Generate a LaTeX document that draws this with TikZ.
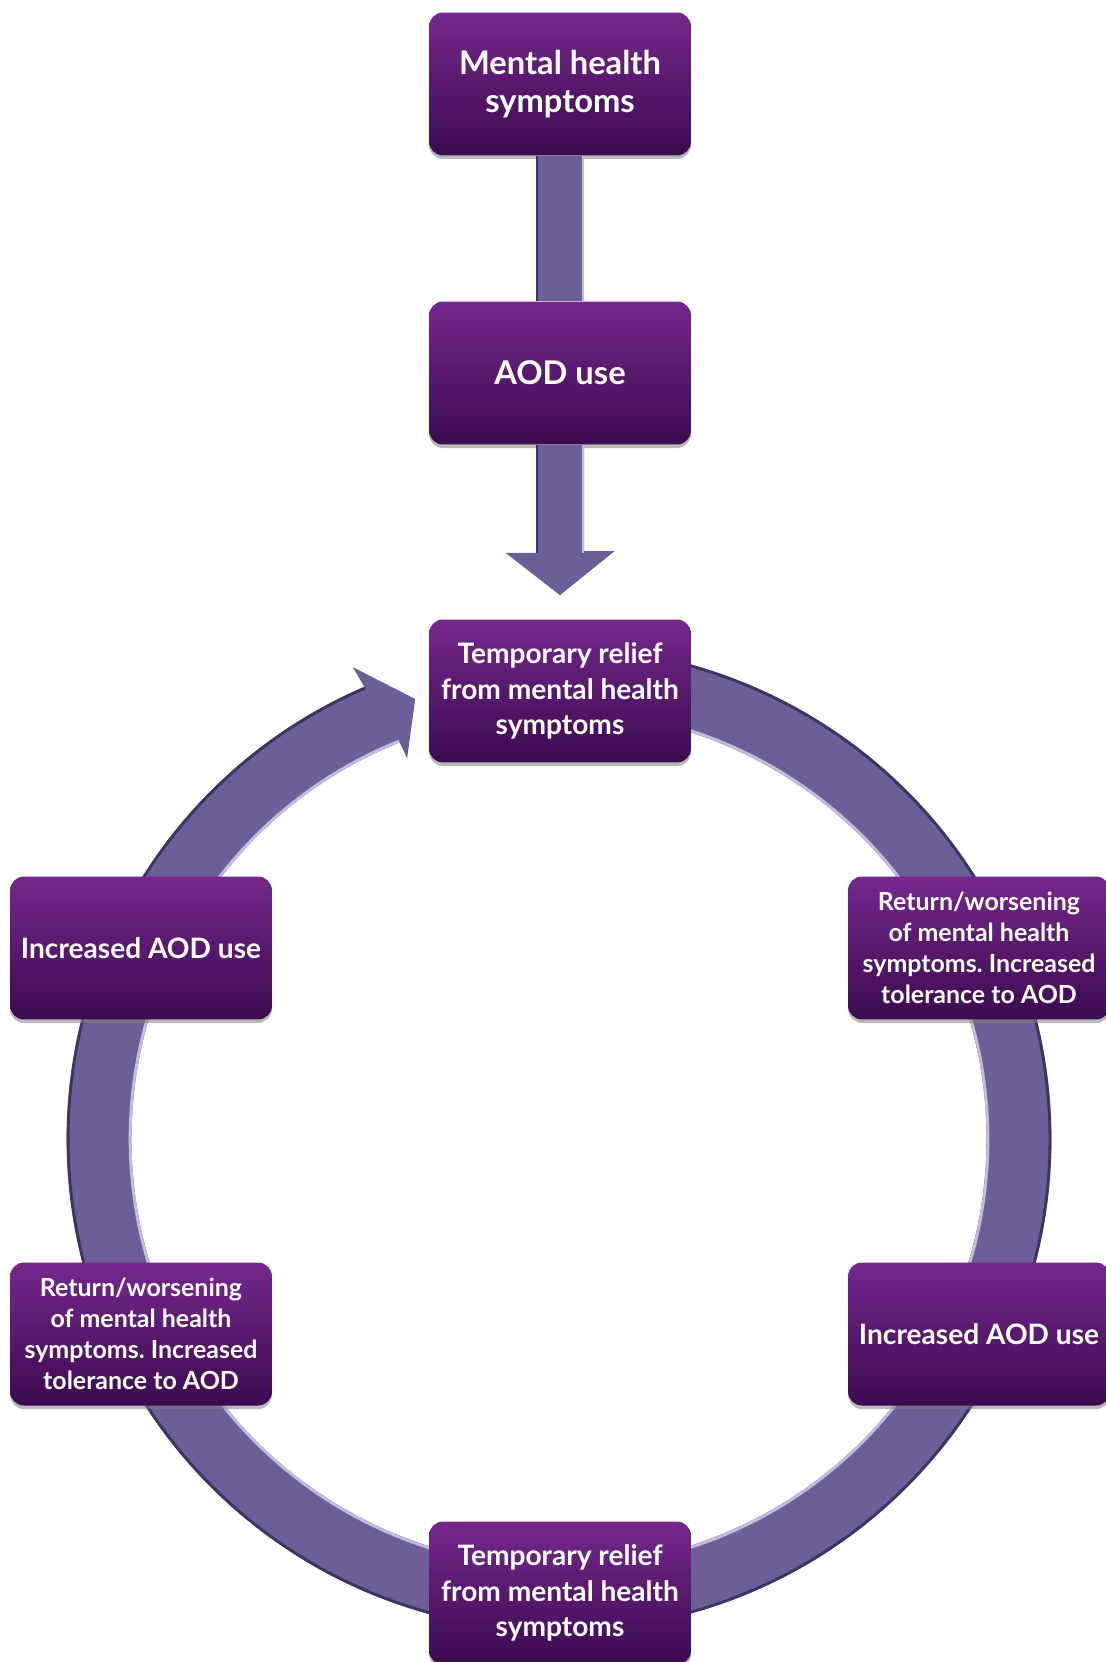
\documentclass[tikz,border=0pt]{standalone}
\usepackage{fontspec}
\setmainfont{Lato}
\frenchspacing
\usetikzlibrary{positioning,shadows}
\definecolor{boxtop}{RGB}{117,40,140}
\definecolor{boxbot}{RGB}{60,10,80}
\definecolor{flow}{RGB}{108,94,150}
\definecolor{flowdark}{RGB}{62,52,98}
\definecolor{flowlight}{RGB}{196,188,222}
\begin{document}
\begin{tikzpicture}[x=0.02cm,y=-0.02cm,
    stepbox/.style={rounded corners=0.28cm,top color=boxtop,bottom color=boxbot,
      text=white,align=center,minimum width=5.24cm,minimum height=2.86cm,
      inner sep=0pt,
      drop shadow={shadow xshift=0pt,shadow yshift=-2pt,opacity=0.55}},
    big/.style={font=\fontsize{18.6}{21.2}\selectfont\bfseries},
    mid/.style={font=\fontsize{16}{20.4}\selectfont\bfseries},
    small/.style={font=\fontsize{14.2}{17.6}\selectfont\bfseries}]
    \useasboundingbox (0,0) rectangle (1105,1662);
    % the cycle
    \begin{scope}[shift={(559,1139)}]
        \fill[flow] (95:9.85cm) arc[start angle=95,end angle=-246.7,radius=9.85cm]
            -- (113.6:10.3cm) -- (108.1:9.26cm) -- (111.75:8.2cm) -- (111.9:8.55cm)
            arc[start angle=-248.1,end angle=95,radius=8.55cm] -- cycle;
        \draw[flowdark,line width=1.6pt] (95:9.82cm) arc[start angle=95,end angle=-246.7,radius=9.82cm];
        \draw[flowlight,line width=1.6pt] (95:8.58cm) arc[start angle=95,end angle=-248.1,radius=8.58cm];
    \end{scope}
    \node[stepbox,big] (mhs) at (560,84) {Mental health\\symptoms};
    \node[stepbox,big] (aod) at (560,373) {AOD use};
    \node[stepbox,mid] (relief1) at (560,691) {Temporary relief\\from mental health\\symptoms};
    \node[stepbox,mid] (incleft) at (141,948) {Increased AOD use};
    \node[stepbox,small] (retright) at (979,948) {Return/worsening\\of mental health\\symptoms. Increased\\tolerance to AOD};
    \node[stepbox,small] (retleft) at (141,1334) {Return/worsening\\of mental health\\symptoms. Increased\\tolerance to AOD};
    \node[stepbox,mid] (incright) at (979,1334) {Increased AOD use};
    \node[stepbox,mid] (relief2) at (560,1593) {Temporary relief\\from mental health\\symptoms};
    % straight arrows
    \fill[flow] ([xshift=-0.48cm]mhs.south) rectangle ([xshift=0.48cm]aod.north);
    \draw[flowdark,line width=1.6pt] ([xshift=-0.46cm]mhs.south) -- ([xshift=-0.46cm]aod.north);
    \draw[flowlight,line width=1.6pt] ([xshift=0.46cm]mhs.south) -- ([xshift=0.46cm]aod.north);
    \fill[flow] ([xshift=-0.48cm]aod.south) -- ++(0,108) -- ++(-30.5,0)
        -- ([yshift=0.48cm]relief1.north) -- ++(54.5,-44) -- ++(-30.5,0)
        -- ([xshift=0.48cm]aod.south) -- cycle;
    \draw[flowdark,line width=1.6pt] ([xshift=-0.46cm]aod.south) -- ++(0,108);
    \draw[flowlight,line width=1.6pt] ([xshift=0.46cm]aod.south) -- ++(0,108);
\end{tikzpicture}
\end{document}
